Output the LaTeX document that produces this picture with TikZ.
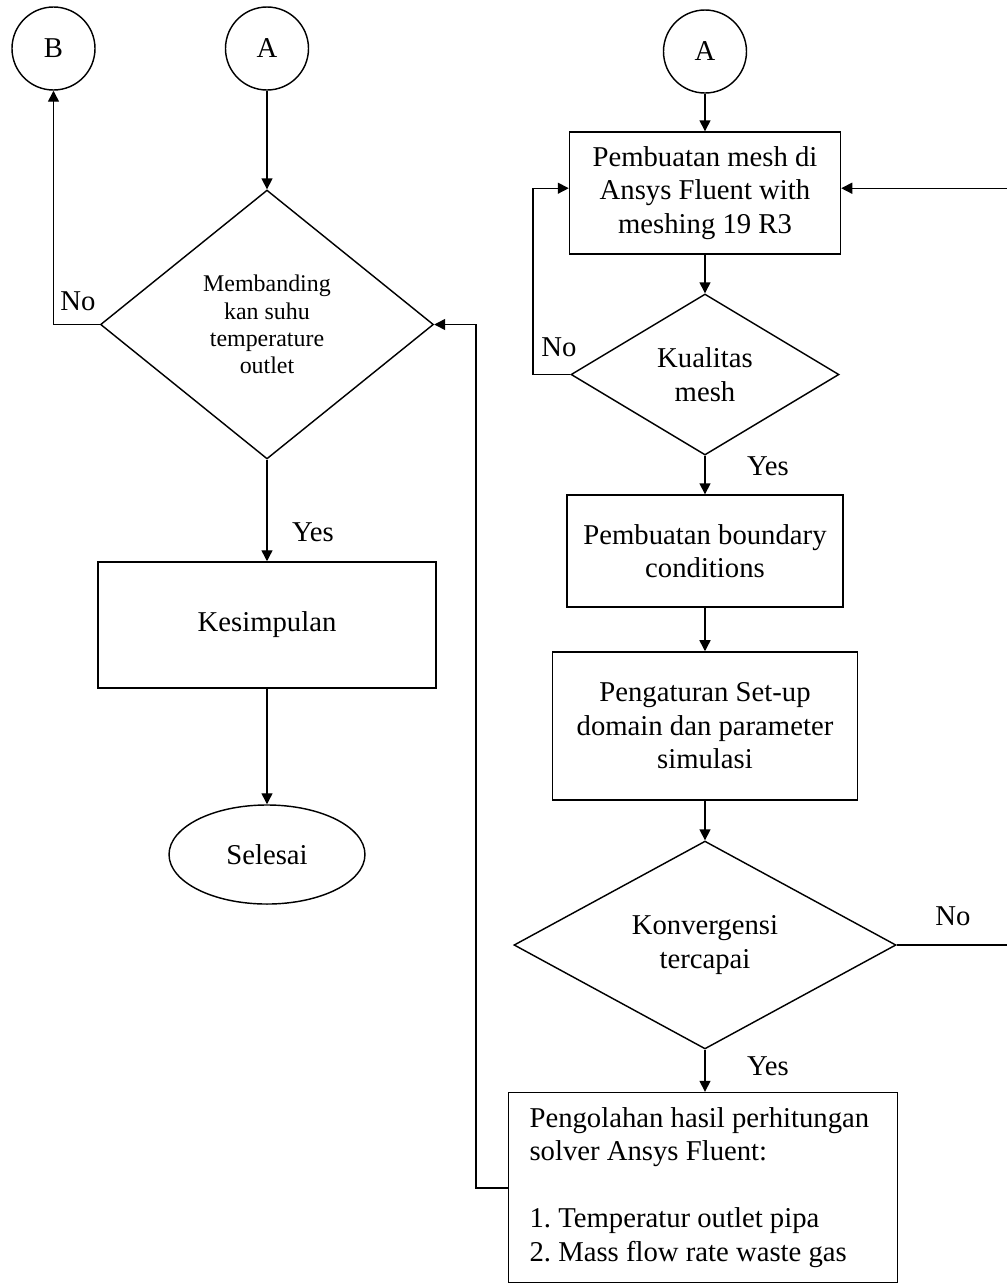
\documentclass[tikz,border=0pt]{standalone}
\usepackage{fontspec}
\setmainfont{Liberation Serif}
\usepackage{tikz}
\usetikzlibrary{shapes.geometric, arrows.meta, positioning}
\frenchspacing

\begin{document}
\begin{tikzpicture}[x=0.418pt, y=-0.418pt,
    font=\fontsize{12}{14}\selectfont,
    every path/.style={line width=0.6pt},
    arr/.style={-{Triangle[length=4.6pt, width=4.6pt]}},
    conn/.style={draw, circle, minimum size=34.7pt, inner sep=0pt},
    proc/.style={draw, rectangle, inner sep=0pt, align=center},
    decide/.style={draw, diamond, inner sep=0pt, align=center},
    lbl/.style={inner sep=0pt}]
        \useasboundingbox (0,0) rectangle (1006,1284);
        % kolom kiri
        \node[conn] (conB) at (53.5,48.5) {B};
        \node[conn] (conAL) at (267,48.5) {A};
        \node[decide, shape aspect=1.2, minimum width=139.2pt, minimum height=112.4pt,
          font=\fontsize{10}{11.4}\selectfont] (banding) at (267,324.5)
          {Membanding\\kan suhu\\temperature\\outlet};
        \node[proc, minimum width=141.3pt, minimum height=52.7pt] (simpul) at (267,625) {Kesimpulan};
        \node[draw, ellipse, minimum width=81.9pt, minimum height=41.4pt, inner sep=0pt] (selesai) at (267,854.5) {Selesai};
        % kolom kanan
        \node[conn] (conAR) at (705,51.5) {A};
        \node[proc, minimum width=113.3pt, minimum height=51pt] (mesh) at (705,193)
          {Pembuatan mesh di\\Ansys Fluent with\\meshing 19 R3};
        \node[decide, shape aspect=1.6, minimum width=112pt, minimum height=67.3pt] (kualitas) at (705,374.5)
          {Kualitas\\mesh};
        \node[proc, minimum width=115.4pt, minimum height=46.8pt] (boundary) at (705,551)
          {Pembuatan boundary\\conditions};
        \node[proc, minimum width=127.5pt, minimum height=61.9pt] (setup) at (705,726)
          {Pengaturan Set-up\\domain dan parameter\\simulasi};
        \node[decide, shape aspect=1.8, minimum width=159.7pt, minimum height=86.9pt] (konv) at (705,945)
          {Konvergensi\\tercapai};
        \node[proc, align=flush left, text width=145pt, minimum width=162.6pt, minimum height=79.4pt] (hasil) at (703,1187.5)
          {Pengolahan hasil perhitungan\\solver Ansys Fluent:\\[14pt]1. Temperatur outlet pipa\\2. Mass flow rate waste gas};
        \coordinate (kembaliK) at (533,374.5);
        \coordinate (kembaliKv) at (1012,945);
        \coordinate (kembaliH) at (476,1188);
        % panah
        \draw[arr] (conAL) -- (banding.north);
        \draw[arr] (banding.west) -| (conB.south);
        \draw[arr] (banding.south) -- (simpul.north);
        \draw[arr] (simpul.south) -- (selesai.north);
        \draw[arr] (conAR) -- (mesh.north);
        \draw[arr] (mesh.south) -- (kualitas.north);
        \draw[arr] (kualitas.west) -- (kembaliK) |- ([yshift=2pt]mesh.west);
        \draw[arr] (kualitas.south) -- (boundary.north);
        \draw[arr] (boundary.south) -- (setup.north);
        \draw[arr] (setup.south) -- (konv.north);
        \draw[arr] (konv.east) -- (kembaliKv) |- ([yshift=2pt]mesh.east);
        \draw[arr] (konv.south) -- (konv.south |- hasil.north);
        \draw[arr] (kembaliH -| hasil.west) -- (kembaliH) |- (banding.east);
        \node[lbl] (noB) at (78,301) {No};
        \node[lbl] (yaS) at (313,532) {Yes};
        \node[lbl] (noK) at (559,347) {No};
        \node[lbl] (yaK) at (768,466) {Yes};
        \node[lbl] (noKv) at (953,916) {No};
        \node[lbl] (yaKv) at (768,1066) {Yes};
      \end{tikzpicture}
\end{document}
